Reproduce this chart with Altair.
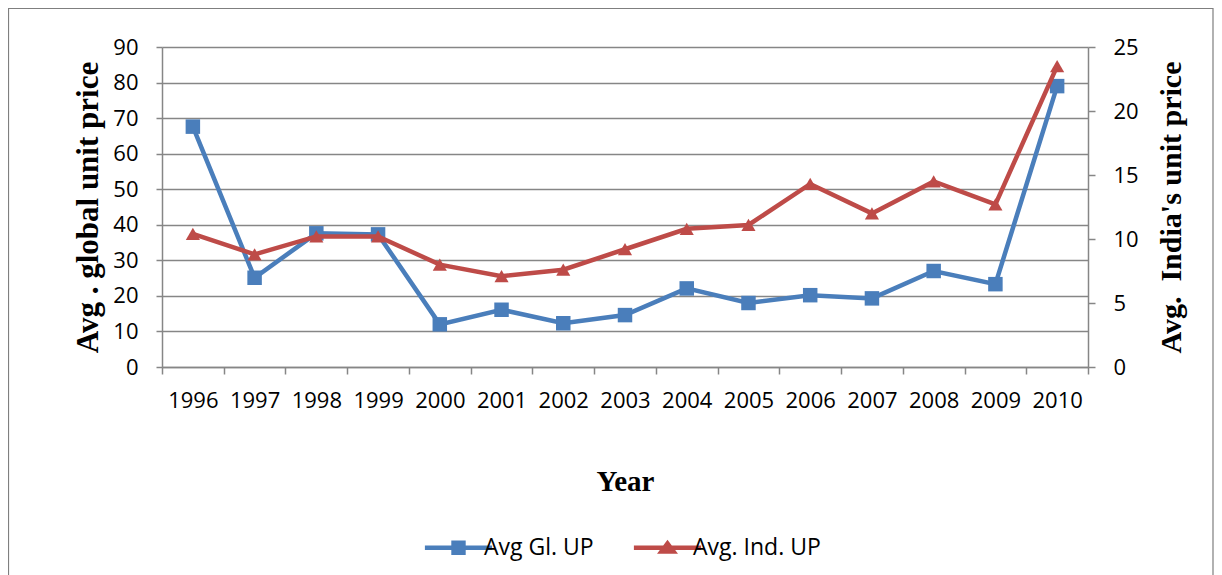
import altair as alt
import pandas as pd

years = ["1996", "1997", "1998", "1999", "2000", "2001", "2002", "2003",
         "2004", "2005", "2006", "2007", "2008", "2009", "2010"]
global_up = [67.6, 25.1, 37.6, 37.3, 12.0, 16.1, 12.3, 14.6, 22.1, 18.0, 20.2, 19.3, 27.0, 23.3, 79.0]
india_up = [10.4, 8.8, 10.2, 10.2, 8.0, 7.1, 7.6, 9.2, 10.8, 11.1, 14.3, 12.0, 14.5, 12.7, 23.5]
series_names = ["Avg Gl. UP", "Avg. Ind. UP"]
series_colors = ["#4a7ebb", "#be4b48"]
left_ticks = [0, 10, 20, 30, 40, 50, 60, 70, 80, 90]
right_ticks = [0, 5, 10, 15, 20, 25]

df = pd.DataFrame({"year": years, "gl": global_up, "ind": india_up})

LAB_FONT = "Open Sans"
TTL_FONT = "Liberation Serif"
GRAY = "#868686"

legend_paths = [
    "M-5.6,-0.38 L5.6,-0.38 L5.6,0.38 L-5.6,0.38 Z M-1.2,-1.2 L1.2,-1.2 L1.2,1.2 L-1.2,1.2 Z",
    "M-5.6,-0.38 L5.6,-0.38 L5.6,0.38 L-5.6,0.38 Z M0,-1.35 L1.75,1.0 L-1.75,1.0 Z",
]

xenc = alt.X(
    "year:O",
    scale=alt.Scale(type="band", paddingInner=0, paddingOuter=0),
    bandPosition=0.5,
    axis=alt.Axis(
        title="Year", titleFont=TTL_FONT, titleFontSize=29, titleFontWeight="bold",
        titleColor="black", titleX=463, titleY=114, titleBaseline="middle",
        labelFont=LAB_FONT, labelFontSize=22, labelColor="black", labelAngle=0,
        labelPadding=16, tickBand="extent", tickSize=7, tickColor=GRAY, tickWidth=1.5,
        domainColor=GRAY, domainWidth=1.5, grid=False,
    ),
)

frame = alt.Chart(pd.DataFrame({"k": [0]})).mark_rect(
    fillOpacity=0, stroke="#7f7f7f", strokeWidth=1.2, clip=False
).encode(
    x=alt.value(-153.5), x2=alt.value(1051), y=alt.value(-38.5), y2=alt.value(700)
)

blue = alt.Chart(df).mark_line(
    color=series_colors[0], strokeWidth=4.5,
    point=alt.OverlayMarkDef(shape="square", filled=True, size=210, color=series_colors[0], opacity=1),
).encode(
    x=xenc,
    y=alt.Y(
        "gl:Q",
        scale=alt.Scale(domain=[0, 90], nice=False, zero=True),
        axis=alt.Axis(
            orient="left", values=left_ticks, grid=True, gridColor=GRAY, gridWidth=1.5,
            title="Avg . global unit price", titleFont=TTL_FONT, titleFontSize=31,
            titleFontWeight="bold", titleColor="black", titleX=-74, titleY=160,
            titleAngle=270, titleAlign="center", titleBaseline="middle",
            labelFont=LAB_FONT, labelFontSize=22, labelColor="black", labelPadding=18,
            tickSize=6, tickColor=GRAY, tickWidth=1.5, domainColor=GRAY, domainWidth=1.5,
        ),
    ),
)

red = alt.Chart(df).mark_line(
    color=series_colors[1], strokeWidth=4.5,
    point=alt.OverlayMarkDef(shape="triangle-up", filled=True, size=200, color=series_colors[1], opacity=1),
).encode(
    x=xenc,
    y=alt.Y(
        "ind:Q",
        scale=alt.Scale(domain=[0, 25], nice=False, zero=True),
        axis=alt.Axis(
            orient="right", values=right_ticks, grid=False,
            title="Avg.\u00a0 India's unit price", titleFont=TTL_FONT, titleFontSize=30,
            titleFontWeight="bold", titleColor="black", titleX=83, titleY=160,
            titleAngle=270, titleAlign="center", titleBaseline="middle",
            labelFont=LAB_FONT, labelFontSize=22, labelColor="black", labelPadding=18,
            tickSize=7, tickColor=GRAY, tickWidth=1.5, domainColor=GRAY, domainWidth=1.5,
        ),
    ),
)

leg_def = alt.Legend(
    orient="none", legendX=285, legendY=489, direction="horizontal", title=None,
    labelFont=LAB_FONT, labelFontSize=23, labelColor="black", labelOffset=14,
    columnPadding=39, symbolSize=144, symbolOpacity=1, symbolStrokeWidth=0,
    padding=0, labelLimit=0,
)

legend_layer = alt.Chart(pd.DataFrame({"series": series_names})).mark_point(
    filled=True, opacity=0, size=144
).encode(
    color=alt.Color("series:N", scale=alt.Scale(domain=series_names, range=series_colors), legend=leg_def),
    shape=alt.Shape("series:N", scale=alt.Scale(domain=series_names, range=legend_paths), legend=leg_def),
)

chart = alt.layer(frame, blue, red, legend_layer).resolve_scale(
    y="independent"
).properties(
    width=926, height=320,
    autosize=alt.AutoSizeParams(type="none"),
    padding={"left": 154, "top": 39, "right": 126, "bottom": 208},
    background="white",
).configure_view(stroke=None)

chart.save("out.html", embed_options={"renderer": "svg", "actions": False})
